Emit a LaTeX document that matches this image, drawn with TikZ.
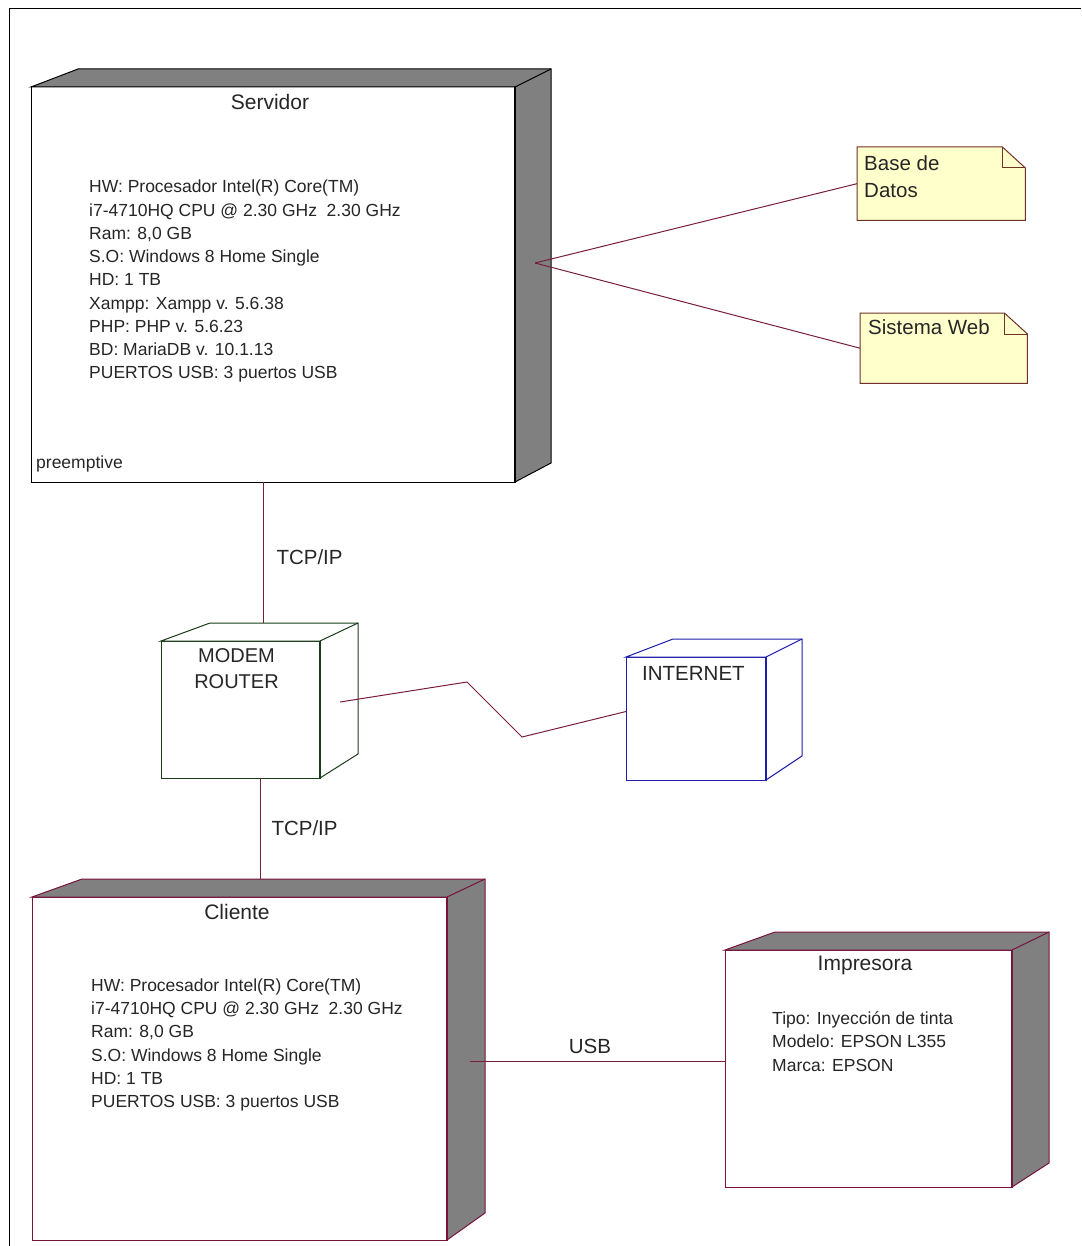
\documentclass[tikz,border=0pt]{standalone}
\usepackage{fontspec}
\setmainfont{Liberation Sans}
\usepackage{xcolor}
\usetikzlibrary{calc}
\definecolor{NodeGray}{RGB}{128,128,128}
\definecolor{NodeRed}{RGB}{120,20,60}
\definecolor{RouterGreen}{RGB}{25,60,25}
\definecolor{NetBlue}{RGB}{30,30,170}
\definecolor{NoteFill}{RGB}{255,255,204}
\definecolor{NoteEdge}{RGB}{110,50,40}
\definecolor{LinkColor}{RGB}{120,30,60}

\newcommand{\nodedepth}[5]{%
  \filldraw[#5] (#1.north west) -- ++(#2,-18) -- ($(#1.north east)+(#3,-18)$)
    -- ($(#1.south east)+(#3,-#4)$) -- (#1.south east) -- (#1.north east) -- cycle;
  \draw[#5, fill=none] (#1.north east) -- ++(#3,-18);
  \draw[#5, fill=none, line width=2.4pt] (#1.north east) -- (#1.south east);
}
\newcommand{\notecorner}[1]{%
  \filldraw[notebox] (#1.north west) -- ($(#1.north east)+(-23,0)$) -- ($(#1.north east)+(0,21)$)
    -- (#1.south east) -- (#1.south west) -- cycle;
  \draw[notebox, fill=none] ($(#1.north east)+(-23,0)$) -- ++(0,21) -- ++(23,0);
}

\begin{document}
\begin{tikzpicture}[x=1pt, y=-1pt,
    frontface/.style={line width=1pt, fill=white, inner sep=0pt, outer sep=0pt, anchor=north west},
    graydepth/.style={draw=#1, fill=NodeGray, line width=1pt, line join=miter},
    whitedepth/.style={draw=#1, fill=white, line width=1pt, line join=miter},
    notebox/.style={draw=NoteEdge, fill=NoteFill, line width=1pt},
    linkline/.style={draw=LinkColor, line width=1pt},
    nodetitle/.style={font=\fontsize{21}{25}\selectfont, inner sep=0pt, text=black!85},
    specbody/.style={font=\fontsize{17.5}{23.25}\selectfont, align=left, inner sep=0pt, anchor=north west, text=black!85},
    linklabel/.style={font=\fontsize{20.5}{24}\selectfont, inner sep=0pt, text=black!85}]
  \useasboundingbox (0,0) rectangle (1081,1246);
  \draw[line width=1pt] (9,1246) -- (9,9) -- (1081,9);

  \node[frontface, draw=black, minimum width=484, minimum height=395] (servidor) at (31,87) {};
  \nodedepth{servidor}{47}{36}{19}{graydepth=black}
  \node[nodetitle] (servidortitle) at (270,102) {Servidor};
  \node[specbody] (servidorspec) at (89,180) {HW: Procesador Intel(R) Core(TM)\\ i7-4710HQ CPU @ 2.30 GHz~ 2.30 GHz\\ Ram: 8,0 GB\\ S.O: Windows 8 Home Single\\ HD: 1 TB\\ Xampp: Xampp v. 5.6.38\\ PHP: PHP v. 5.6.23\\ BD: MariaDB v. 10.1.13\\ PUERTOS USB: 3 puertos USB};
  \node[specbody, anchor=west] (preemptive) at (36,464) {preemptive};

  \node[inner sep=0pt, anchor=north west, minimum width=168, minimum height=73] (basedatos) at (857,147) {};
  \notecorner{basedatos}
  \node[linklabel, align=left, anchor=north west, font=\fontsize{20.5}{27}\selectfont] (basedatostext) at (864,155) {Base de\\Datos};
  \node[inner sep=0pt, anchor=north west, minimum width=167, minimum height=70] (sistemaweb) at (860,313) {};
  \notecorner{sistemaweb}
  \node[linklabel, anchor=north west] (sistemawebtext) at (868,319) {Sistema Web};

  \node[frontface, draw=RouterGreen, minimum width=159, minimum height=137] (modem) at (161,641) {};
  \nodedepth{modem}{49}{38}{24}{whitedepth=RouterGreen}
  \node[nodetitle, align=center, font=\fontsize{20}{26}\selectfont] (modemtitle) at (236.5,669) {MODEM\\ROUTER};

  \node[frontface, draw=NetBlue, minimum width=140, minimum height=123] (internet) at (626,657) {};
  \nodedepth{internet}{47}{36}{24}{whitedepth=NetBlue}
  \node[nodetitle, anchor=west, font=\fontsize{20.5}{24}\selectfont] (internettitle) at (642,673) {INTERNET};

  \node[frontface, draw=NodeRed, minimum width=415, minimum height=343] (cliente) at (32,897) {};
  \nodedepth{cliente}{50}{38}{27}{graydepth=NodeRed}
  \node[nodetitle] (clientetitle) at (237,912) {Cliente};
  \node[specbody] (clientespec) at (91,978.5) {HW: Procesador Intel(R) Core(TM)\\ i7-4710HQ CPU @ 2.30 GHz~ 2.30 GHz\\ Ram: 8,0 GB\\ S.O: Windows 8 Home Single\\ HD: 1 TB\\ PUERTOS USB: 3 puertos USB};

  \node[frontface, draw=NodeRed, minimum width=287, minimum height=237] (impresora) at (725,950) {};
  \nodedepth{impresora}{50}{37}{24}{graydepth=NodeRed}
  \node[nodetitle] (impresoratitle) at (865,965) {Impresora};
  \node[specbody] (impresoraspec) at (772,1011.5) {Tipo: Inyección de tinta\\ Modelo: EPSON L355\\ Marca: EPSON};

  \coordinate (modemtop) at (263,623);
  \coordinate (clientetop) at (260,879);
  \coordinate (servidorport) at (535,263);
  \coordinate (modemport) at (340,702);
  \coordinate (clienteport) at (470,1061);

  \draw[linkline] (servidor.south -| modemtop) -- (modemtop) node[linklabel, pos=0.53, right=13pt] {TCP/IP};
  \draw[linkline] (modem.south -| clientetop) -- (clientetop) node[linklabel, midway, right=11pt] {TCP/IP};
  \draw[linkline] (modemport) -- (467,682) -- (522,737) -- ([yshift=7pt]internet.west);
  \draw[linkline] (servidorport) -- (basedatos.west);
  \draw[linkline] (servidorport) -- (sistemaweb.west);
  \draw[linkline] (clienteport) -- (clienteport -| impresora.west) node[linklabel, pos=0.47, above=6.5pt] {USB};
\end{tikzpicture}
\end{document}
